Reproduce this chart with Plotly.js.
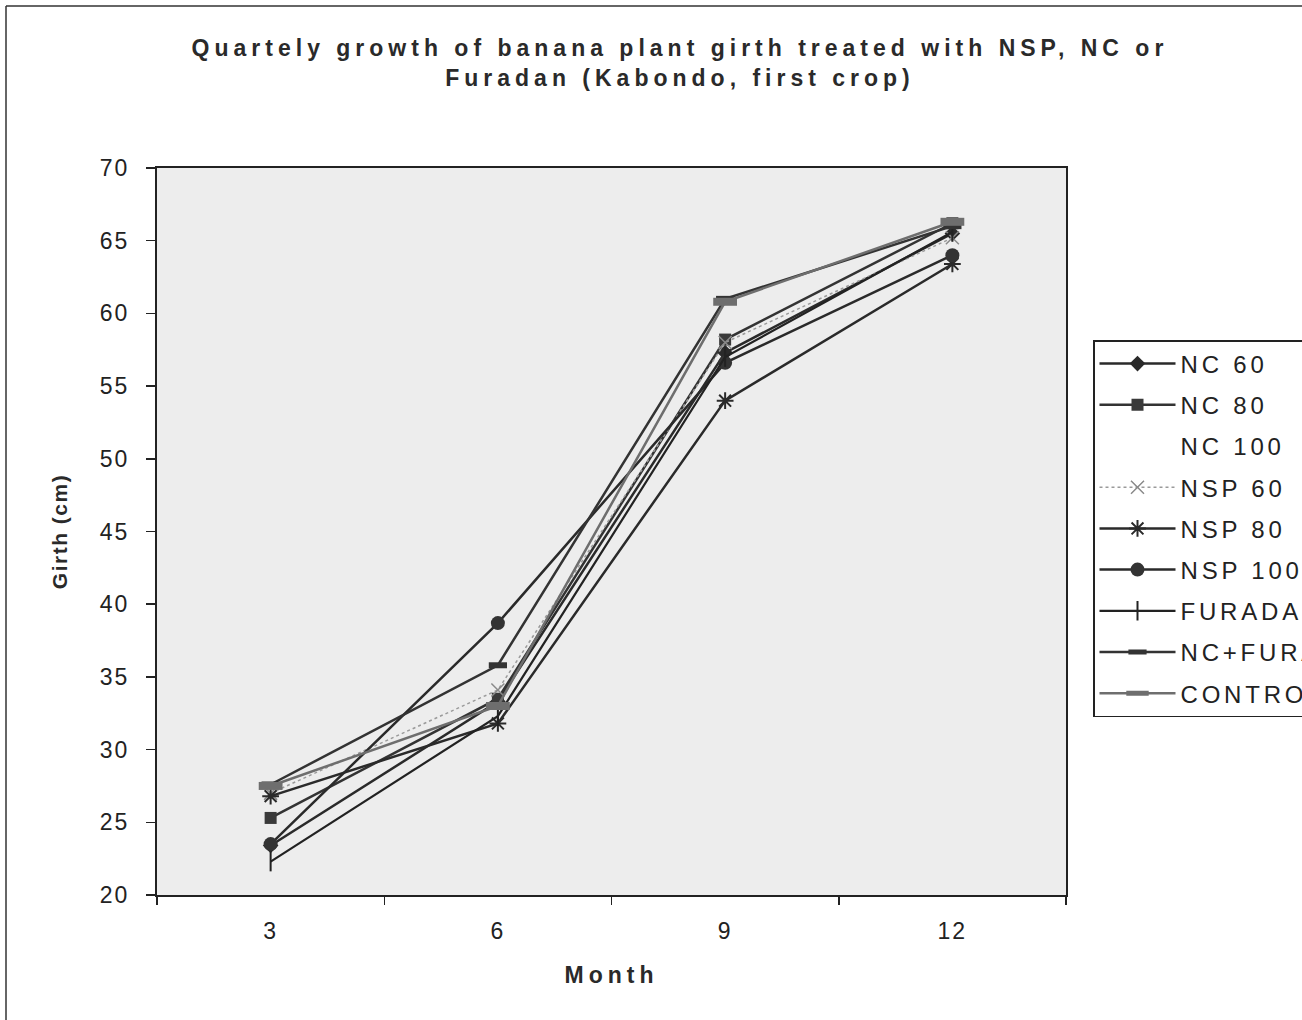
<!DOCTYPE html>
<html>
<head>
<meta charset="utf-8">
<script src="https://cdn.plot.ly/plotly-3.0.1.min.js"></script>
<style>
  html, body { margin: 0; padding: 0; background: #fff; }
  #chart { width: 1302px; height: 1020px; }
  .gtitle { letter-spacing: 5px; }
  .xtitle { letter-spacing: 5px; }
  .ytitle { letter-spacing: 1.5px; }
  .legendtext { letter-spacing: 3.8px; }
  .xtick text, .ytick text { letter-spacing: 2px; }
</style>
</head>
<body>
<div id="chart"></div>
<script>
// ---- data ----
const months = ["3", "6", "9", "12"];
const seriesNames = ["NC 60", "NC 80", "NC 100", "NSP 60", "NSP 80", "NSP 100", "FURADAN", "NC+FURADAN", "CONTROL"];
const nc60      = [23.4, 33.3, 57.3, 65.5];
const nc80      = [25.3, 33.5, 58.2, 66.2];
const nc100     = [24.0, 34.0, 58.0, 65.0];
const nsp60     = [27.0, 34.1, 58.0, 65.2];
const nsp80     = [26.8, 31.8, 54.0, 63.4];
const nsp100    = [23.5, 38.7, 56.6, 64.0];
const furadan   = [22.3, 32.3, 57.0, 65.6];
const ncFuradan = [27.6, 35.8, 61.0, 66.0];
const control   = [27.5, 33.0, 60.8, 66.3];

const values = [nc60, nc80, nc100, nsp60, nsp80, nsp100, furadan, ncFuradan, control];

const styles = [
  {line: {color: '#2a2a2a', width: 2.5}, marker: {symbol: 'diamond', size: 12, color: '#2a2a2a'}, mode: 'lines+markers'},
  {line: {color: '#333333', width: 2.5}, marker: {symbol: 'square', size: 12, color: '#3a3a3a'}, mode: 'lines+markers'},
  {line: {color: 'rgba(0,0,0,0)', width: 0}, mode: 'lines'},
  {line: {color: '#9a9a9a', width: 1.5, dash: 'dot'}, marker: {symbol: 'x-thin-open', size: 13, color: '#8a8a8a', line: {width: 1.5, color: '#8a8a8a'}}, mode: 'lines+markers'},
  {line: {color: '#2a2a2a', width: 2.5}, marker: {symbol: 'asterisk-open', size: 14, color: '#2a2a2a', line: {width: 2, color: '#2a2a2a'}}, mode: 'lines+markers'},
  {line: {color: '#2a2a2a', width: 2.5}, marker: {symbol: 'circle', size: 14, color: '#333333'}, mode: 'lines+markers'},
  {line: {color: '#222222', width: 2.2}, marker: {symbol: 'line-ns-open', size: 14, color: '#222222', line: {width: 2, color: '#222222'}}, mode: 'lines+markers'},
  {line: {color: '#333333', width: 2.5}, marker: {symbol: 'line-ew-open', size: 13, color: '#333333', line: {width: 6, color: '#333333'}}, mode: 'lines+markers'},
  {line: {color: '#6e6e6e', width: 2.5}, marker: {symbol: 'line-ew-open', size: 17, color: '#6e6e6e', line: {width: 8, color: '#6e6e6e'}}, mode: 'lines+markers'}
];

const traces = seriesNames.map((name, i) => Object.assign({
  type: 'scatter',
  x: months,
  y: values[i],
  name: name,
  legendgroup: 'g' + i,
  hoverinfo: 'name+y'
}, styles[i]));

const FONT = 'Liberation Sans, Arial, sans-serif';

// outer frame (left and top edges visible in the reference)
const fx = (6 - 157) / 909;
const fyTop = (895 - 6) / 727;
const fyBot = (895 - 1030) / 727;

const layout = {
  width: 1302,
  height: 1020,
  paper_bgcolor: '#ffffff',
  plot_bgcolor: '#ededed',
  margin: {l: 157, r: 236, t: 168, b: 125, autoexpand: false},
  font: {family: FONT, color: '#222'},
  title: {
    text: '<b>Quartely growth of banana plant girth treated with NSP, NC or<br>Furadan (Kabondo, first crop)</b>',
    font: {family: FONT, size: 23, color: '#2a2a2a'},
    x: 680 / 1302,
    xref: 'container',
    xanchor: 'center',
    y: 1 - 56 / 1020,
    yref: 'container',
    yanchor: 'top'
  },
  xaxis: {
    type: 'category',
    range: [-0.5, 3.5],
    tickson: 'boundaries',
    ticks: 'outside',
    ticklen: 8,
    tickcolor: '#222',
    tickwidth: 1.5,
    ticklabelstandoff: 14,
    showline: true,
    linecolor: '#222',
    linewidth: 2,
    mirror: true,
    showgrid: false,
    zeroline: false,
    tickfont: {family: FONT, size: 23, color: '#222'},
    title: {text: '<b>Month</b>', font: {family: FONT, size: 23, color: '#2a2a2a'}, standoff: 24}
  },
  yaxis: {
    range: [20, 70],
    dtick: 5,
    tick0: 20,
    ticks: 'outside',
    ticklen: 9,
    tickcolor: '#222',
    tickwidth: 1.5,
    ticklabelstandoff: 12,
    showline: true,
    linecolor: '#222',
    linewidth: 2,
    mirror: true,
    showgrid: false,
    zeroline: false,
    tickfont: {family: FONT, size: 23, color: '#222'},
    title: {text: '<b>Girth (cm)</b>', font: {family: FONT, size: 21, color: '#2a2a2a'}, standoff: 26}
  },
  showlegend: true,
  legend: {
    x: (1093 - 157) / 909,
    xanchor: 'left',
    y: (895 - 340) / 727,
    yanchor: 'top',
    bgcolor: '#ffffff',
    bordercolor: '#222',
    borderwidth: 1.5,
    font: {family: FONT, size: 24, color: '#222'},
    tracegroupgap: 7,
    itemwidth: 76,
    traceorder: 'grouped'
  },
  shapes: [
    {type: 'line', xref: 'paper', yref: 'paper', x0: fx, x1: fx, y0: fyBot, y1: fyTop, line: {color: '#333', width: 1.5}},
    {type: 'line', xref: 'paper', yref: 'paper', x0: fx, x1: 2, y0: fyTop, y1: fyTop, line: {color: '#333', width: 1.5}}
  ]
};

Plotly.newPlot('chart', traces, layout, {displayModeBar: false, staticPlot: true});
</script>
</body>
</html>
